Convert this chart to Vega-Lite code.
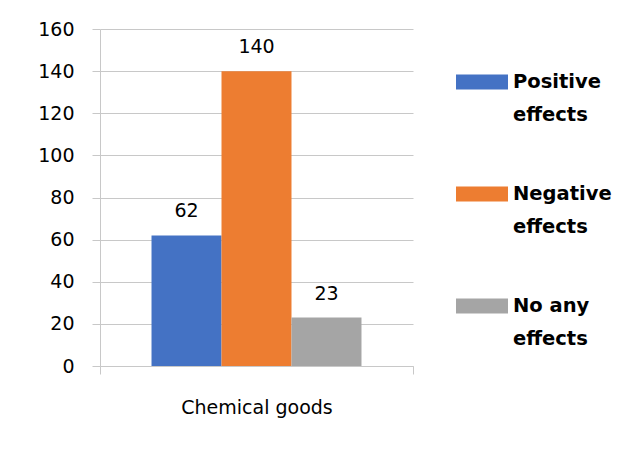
{
  "$schema": "https://vega.github.io/schema/vega-lite/v6.json",
  "width": 313,
  "height": 337,
  "autosize": {"type": "none"},
  "padding": {"left": 100, "top": 29, "right": 224, "bottom": 89},
  "background": "white",
  "config": {
    "view": {"stroke": null},
    "font": "DejaVu Sans"
  },
  "data": {
    "values": [
      {"category": "Chemical goods", "series": "Positive effects", "value": 62},
      {"category": "Chemical goods", "series": "Negative effects", "value": 140},
      {"category": "Chemical goods", "series": "No any effects", "value": 23}
    ]
  },
  "encoding": {
    "x": {
      "field": "category",
      "type": "nominal",
      "scale": {"paddingInner": 0, "paddingOuter": 0},
      "axis": {
        "title": null,
        "labelAngle": 0,
        "tickBand": "extent",
        "tickSize": 8,
        "labelPadding": 24,
        "domainColor": "#C8C8C8",
        "tickColor": "#C8C8C8",
        "labelFont": "DejaVu Sans",
        "labelFontSize": 19,
        "labelColor": "#000000",
        "grid": false
      }
    },
    "xOffset": {
      "field": "series",
      "type": "nominal",
      "sort": ["Positive effects", "Negative effects", "No any effects"],
      "scale": {"paddingInner": 0, "paddingOuter": 0.736}
    },
    "y": {
      "field": "value",
      "type": "quantitative",
      "scale": {"domain": [0, 160], "nice": false},
      "axis": {
        "title": null,
        "values": [0, 20, 40, 60, 80, 100, 120, 140, 160],
        "grid": true,
        "gridColor": "#C8C8C8",
        "domainColor": "#C8C8C8",
        "tickColor": "#C8C8C8",
        "tickSize": 8,
        "labelPadding": 18,
        "labelFont": "DejaVu Sans",
        "labelFontSize": 19,
        "labelColor": "#000000"
      }
    }
  },
  "layer": [
    {
      "mark": {"type": "bar"},
      "encoding": {
        "color": {
          "field": "series",
          "type": "nominal",
          "scale": {
            "domain": ["Positive effects", "Negative effects", "No any effects"],
            "range": ["#4472C4", "#ED7D31", "#A5A5A5"]
          },
          "legend": {
            "title": null,
            "orient": "right",
            "offset": 16,
            "padding": 27,
            "symbolType": "M-1,-0.29H1V0.29H-1Z",
            "symbolSize": 2704,
            "symbolStrokeWidth": 0,
            "labelFont": "DejaVu Sans",
            "labelFontWeight": "bold",
            "labelFontSize": 19.5,
            "labelColor": "#000000",
            "labelOffset": 5,
            "labelBaseline": "middle",
            "labelLimit": 200,
            "rowPadding": 43,
            "labelExpr": "datum.label == 'No any effects' ? ['No any', 'effects'] : split(datum.label, ' ')",
            "encode": {"labels": {"update": {"lineHeight": {"value": 33}}}}
          }
        }
      }
    },
    {
      "mark": {
        "type": "text",
        "dy": -18,
        "baseline": "alphabetic",
        "font": "DejaVu Sans",
        "fontSize": 19,
        "color": "#000000"
      },
      "encoding": {"text": {"field": "value", "type": "quantitative"}}
    }
  ]
}
